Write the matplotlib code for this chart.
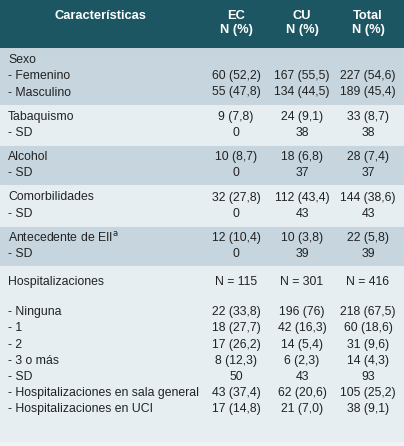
import matplotlib.pyplot as plt
from matplotlib.patches import Rectangle

plt.rcParams['font.family'] = ['Liberation Sans', 'DejaVu Sans']

headers = ['Características', 'EC\nN (%)', 'CU\nN (%)', 'Total\nN (%)']

# sections: (label, EC, CU, Total)
sections = [
    [('Sexo', '', '', ''),
     ('- Femenino', '60 (52,2)', '167 (55,5)', '227 (54,6)'),
     ('- Masculino', '55 (47,8)', '134 (44,5)', '189 (45,4)')],
    [('Tabaquismo', '9 (7,8)', '24 (9,1)', '33 (8,7)'),
     ('- SD', '0', '38', '38')],
    [('Alcohol', '10 (8,7)', '18 (6,8)', '28 (7,4)'),
     ('- SD', '0', '37', '37')],
    [('Comorbilidades', '32 (27,8)', '112 (43,4)', '144 (38,6)'),
     ('- SD', '0', '43', '43')],
    [('Antecedente de EII$^{\\mathrm{a}}$', '12 (10,4)', '10 (3,8)', '22 (5,8)'),
     ('- SD', '0', '39', '39')],
    [('Hospitalizaciones', 'N = 115', 'N = 301', 'N = 416'),
     (None, '', '', ''),
     ('- Ninguna', '22 (33,8)', '196 (76)', '218 (67,5)'),
     ('- 1', '18 (27,7)', '42 (16,3)', '60 (18,6)'),
     ('- 2', '17 (26,2)', '14 (5,4)', '31 (9,6)'),
     ('- 3 o más', '8 (12,3)', '6 (2,3)', '14 (4,3)'),
     ('- SD', '50', '43', '93'),
     ('- Hospitalizaciones en sala general', '43 (37,4)', '62 (20,6)', '105 (25,2)'),
     ('- Hospitalizaciones en UCI', '17 (14,8)', '21 (7,0)', '38 (9,1)')],
]

W, H = 404, 446
fig = plt.figure(figsize=(W / 100, H / 100), dpi=100)
ax = fig.add_axes([0, 0, 1, 1])
ax.set_xlim(0, W)
ax.set_ylim(H, 0)
ax.axis('off')
fig.patch.set_facecolor('#eef3f6')

col_x = [8, 236, 302, 368]
row_h = 16.2
fs = 8.8

# header
ax.add_patch(Rectangle((0, 0), W, 47, color='#1d5663'))
ax.text(100, 16, headers[0], color='white', fontsize=9.3, fontweight='bold', ha='center', va='center')
for x, h in zip(col_x[1:], headers[1:]):
    ax.text(x, 23, h, color='white', fontsize=9.3, fontweight='bold', ha='center', va='center',
            linespacing=1.3)

colors = ['#c6d5de', '#e6eef2']
y = 49
for i, sec in enumerate(sections):
    n = len(sec)
    if i == len(sections) - 1:
        hgt = H - 5 - y
        pad = 7
    else:
        hgt = n * row_h + 6
        pad = 3
    ax.add_patch(Rectangle((0, y), W, hgt, color=colors[i % 2]))
    ry = y + pad + row_h / 2
    for lab, ec, cu, tot in sec:
        if lab is None:
            ry += row_h * 0.85
            continue
        ax.text(col_x[0], ry, lab, fontsize=fs, color='#222222', ha='left', va='center')
        for x, v in zip(col_x[1:], (ec, cu, tot)):
            ax.text(x, ry, v, fontsize=fs, color='#222222', ha='center', va='center')
        ry += row_h
    y += hgt + 2

fig.savefig('out.png', dpi=100)
